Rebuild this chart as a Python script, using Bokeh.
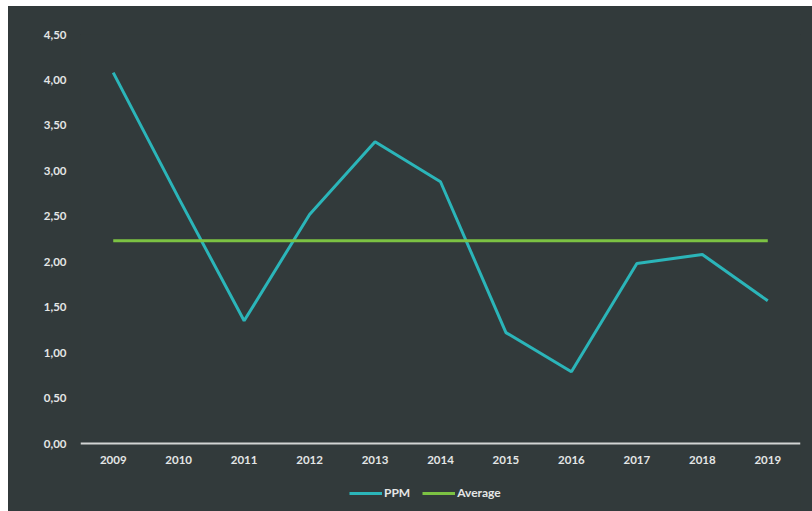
from bokeh.plotting import figure
from bokeh.models import FactorRange, Range1d, FixedTicker, Legend, LegendItem, ColumnDataSource
from bokeh.embed import file_html
from bokeh.resources import INLINE

years = ["2009", "2010", "2011", "2012", "2013", "2014", "2015", "2016", "2017", "2018", "2019"]
ppm = [4.08, 2.70, 1.35, 2.52, 3.32, 2.88, 1.22, 0.79, 1.98, 2.08, 1.57]
average = [2.23] * len(years)
y_ticks = [0.0, 0.5, 1.0, 1.5, 2.0, 2.5, 3.0, 3.5, 4.0, 4.5]
y_tick_labels = ["0,00", "0,50", "1,00", "1,50", "2,00", "2,50", "3,00", "3,50", "4,00", "4,50"]

BG = "#323a3b"
TXT = "#e4e6e6"
TEAL = "#2bb5b9"
GREEN = "#7cc243"
FONT = "Lato"

# layout (pixels): frame top 28, zero line 409px lower, 68px of room below the zero line
PX_PER_UNIT = 409 / 4.5
Y_MIN = -68 / PX_PER_UNIT

src = ColumnDataSource(dict(year=years, ppm=ppm, avg=average))

p = figure(width=804, height=505, output_backend="svg", toolbar_location=None,
           x_range=FactorRange(factors=years, range_padding=0),
           y_range=Range1d(Y_MIN, 4.5),
           min_border_left=72, min_border_right=12, min_border_top=28, min_border_bottom=0)
p.margin = (6, 0, 0, 8)
p.styles = {"background-color": BG}
p.background_fill_color = BG
p.border_fill_color = BG
p.outline_line_color = None
p.xgrid.grid_line_color = None
p.ygrid.grid_line_color = None

r1 = p.line("year", "ppm", source=src, line_color=TEAL, line_width=3)
r2 = p.line("year", "avg", source=src, line_color=GREEN, line_width=3)

ya = p.yaxis[0]
ya.ticker = FixedTicker(ticks=y_ticks)
ya.major_label_overrides = {t: l for t, l in zip(y_ticks, y_tick_labels)}
ya.axis_line_color = None
ya.major_tick_line_color = None
ya.minor_tick_line_color = None
ya.major_tick_out = 0
ya.major_label_standoff = 14
ya.major_label_text_font = FONT
ya.major_label_text_font_style = "bold"
ya.major_label_text_font_size = "11.5px"
ya.major_label_text_color = TXT

xa = p.xaxis[0]
xa.fixed_location = 0
xa.axis_line_color = "#d2d4d4"
xa.axis_line_width = 2
xa.major_tick_line_color = None
xa.minor_tick_line_color = None
xa.major_tick_out = 0
xa.major_label_standoff = 12
xa.major_label_text_font = FONT
xa.major_label_text_font_style = "bold"
xa.major_label_text_font_size = "11.5px"
xa.major_label_text_color = TXT

legend = Legend(items=[LegendItem(label="PPM", renderers=[r1]),
                       LegendItem(label="Average", renderers=[r2])],
                orientation="horizontal", location=(269, 11),
                background_fill_alpha=0, border_line_color=None,
                glyph_width=33, glyph_height=14, label_standoff=2, spacing=12,
                padding=0, margin=0, label_height=14,
                label_text_font=FONT, label_text_font_style="bold",
                label_text_font_size="12px", label_text_color=TXT)
p.add_layout(legend, "center")

open("out.html", "w").write(file_html(p, INLINE))
